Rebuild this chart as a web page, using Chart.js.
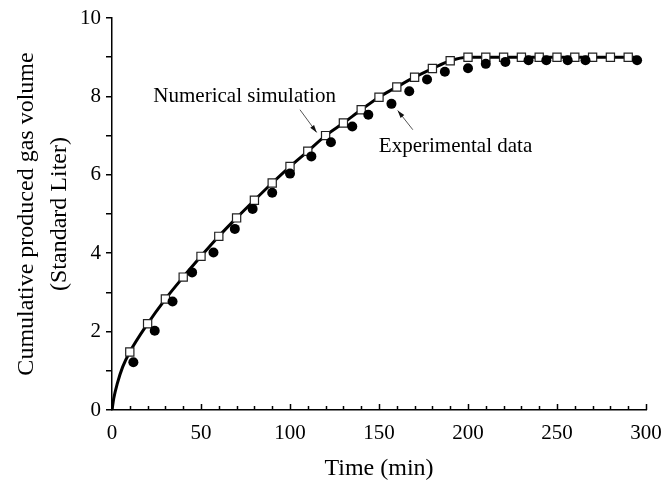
<!DOCTYPE html>
<html>
<head>
<meta charset="utf-8">
<script src="https://cdn.jsdelivr.net/npm/chart.js@4"></script>
<style>
  html, body { margin: 0; padding: 0; background: #fff; }
  #wrap { width: 668px; height: 483px; }
</style>
</head>
<body>
<div id="wrap"><canvas id="c" width="668" height="483"></canvas></div>
<script>
// simulation curve (min, standard liter); squares every 10 min
const simTime = [10, 20, 30, 40, 50, 60, 70, 80, 90, 100, 110, 120, 130, 140, 150,
  160, 170, 180, 190, 200, 210, 220, 230, 240, 250, 260, 270, 280, 290];
const simVolume = [1.48, 2.2, 2.83, 3.39, 3.92, 4.43, 4.9, 5.35, 5.79, 6.21, 6.6, 7.0, 7.32, 7.66, 7.98,
  8.24, 8.49, 8.71, 8.91, 9.0, 9.0, 9.0, 9.0, 9.0, 9.0, 9.0, 9.0, 9.0, 9.0];
// extra points of the continuous curve near the origin and at the end
const curveHeadTime = [0, 1, 3, 6];
const curveHeadVolume = [0, 0.3, 0.68, 1.1];
const curveTailTime = [295];
const curveTailVolume = [9.0];

// experimental data (filled circles)
const expTime = [12, 24, 34, 45, 57, 69, 79, 90, 100, 112, 123, 135, 144, 157, 167, 177,
  187, 200, 210, 221, 234, 244, 256, 266, 295];
const expVolume = [1.22, 2.02, 2.77, 3.51, 4.02, 4.62, 5.13, 5.54, 6.03, 6.47, 6.83, 7.23, 7.53, 7.81, 8.13, 8.43,
  8.63, 8.72, 8.83, 8.88, 8.92, 8.92, 8.92, 8.92, 8.92];

const xTicks = [0, 50, 100, 150, 200, 250, 300];
const yTicks = [0, 2, 4, 6, 8, 10];

const toPts = (xs, ys) => xs.map((x, i) => ({ x, y: ys[i] }));
const curve = toPts(curveHeadTime.concat(simTime, curveTailTime),
  curveHeadVolume.concat(simVolume, curveTailVolume));

const FONT = "'Liberation Serif', 'Times New Roman', serif";
Chart.defaults.font.family = FONT;
Chart.defaults.color = "#000";

// inward tick marks on x axis + the two arrow annotations
const decor = {
  id: "decor",
  afterDatasetsDraw(chart) {
    const { ctx, scales: { x, y } } = chart;
    const base = y.getPixelForValue(0);
    ctx.save();
    ctx.strokeStyle = "#000";
    ctx.lineWidth = 1.5;
    for (let t = 0; t <= 300; t += 10) {
      const px = Math.round(x.getPixelForValue(t)) + 0.5;
      const len = t % 50 === 0 ? 6 : 4;
      ctx.beginPath();
      ctx.moveTo(px, base);
      ctx.lineTo(px, base - len);
      ctx.stroke();
    }

    const arrow = (x0, y0, x1, y1) => {
      const ax = x.getPixelForValue(x0), ay = y.getPixelForValue(y0);
      const bx = x.getPixelForValue(x1), by = y.getPixelForValue(y1);
      ctx.strokeStyle = "#555";
      ctx.lineWidth = 1;
      ctx.beginPath();
      ctx.moveTo(ax, ay);
      ctx.lineTo(bx, by);
      ctx.stroke();
      const a = Math.atan2(by - ay, bx - ax);
      ctx.fillStyle = "#111";
      ctx.beginPath();
      ctx.moveTo(bx, by);
      ctx.lineTo(bx - 8 * Math.cos(a - 0.3), by - 8 * Math.sin(a - 0.3));
      ctx.lineTo(bx - 8 * Math.cos(a + 0.3), by - 8 * Math.sin(a + 0.3));
      ctx.closePath();
      ctx.fill();
    };
    arrow(105.6, 7.66, 115, 7.08);
    arrow(169, 7.15, 160.5, 7.64);

    ctx.fillStyle = "#000";
    ctx.font = "21px " + FONT;
    ctx.textAlign = "center";
    ctx.textBaseline = "middle";
    ctx.fillText("Numerical simulation", x.getPixelForValue(74.5), y.getPixelForValue(7.99));
    ctx.fillText("Experimental data", x.getPixelForValue(193), y.getPixelForValue(6.72));
    ctx.restore();
  }
};

new Chart(document.getElementById("c"), {
  type: "scatter",
  data: {
    datasets: [
      {
        label: "curve",
        data: curve,
        order: 3,
        showLine: true,
        borderColor: "#000",
        borderWidth: 3,
        pointRadius: 0,
        cubicInterpolationMode: "monotone"
      },
      {
        label: "Numerical simulation",
        data: toPts(simTime, simVolume),
        order: 2,
        showLine: false,
        pointStyle: "rect",
        pointRadius: 5.8,
        pointBackgroundColor: "#fff",
        pointBorderColor: "#222",
        pointBorderWidth: 1.2
      },
      {
        label: "Experimental data",
        data: toPts(expTime, expVolume),
        order: 1,
        showLine: false,
        pointStyle: "circle",
        pointRadius: 5,
        pointBackgroundColor: "#000",
        pointBorderColor: "#000",
        pointBorderWidth: 0
      }
    ]
  },
  options: {
    responsive: false,
    animation: false,
    layout: { padding: { left: 0, right: 22, top: 18, bottom: 0 } },
    plugins: { legend: { display: false }, tooltip: { enabled: false } },
    scales: {
      x: {
        type: "linear",
        min: 0,
        max: 300,
        afterFit(s) { s.height = 73; },
        afterBuildTicks(s) { s.ticks = xTicks.map(v => ({ value: v })); },
        ticks: { font: { size: 21 }, padding: 3, maxRotation: 0, autoSkip: false },
        grid: { display: false },
        border: { color: "#000", width: 1.5 },
        title: { display: true, text: "Time (min)", font: { size: 24 }, padding: { top: 2, bottom: 0 } }
      },
      y: {
        min: 0,
        max: 10,
        afterFit(s) { s.width = 112; },
        ticks: {
          stepSize: 1,
          font: { size: 21 },
          padding: 5,
          callback: v => (yTicks.includes(v) ? String(v) : "")
        },
        grid: { drawOnChartArea: false, tickLength: 6, color: "#000", lineWidth: 1.5 },
        border: { color: "#000", width: 1.5 },
        title: {
          display: true,
          text: ["Cumulative produced gas volume", "(Standard Liter)"],
          font: { size: 24, lineHeight: 1.38 },
          padding: { top: 10, bottom: 0 }
        }
      }
    }
  },
  plugins: [decor]
});
</script>
</body>
</html>
